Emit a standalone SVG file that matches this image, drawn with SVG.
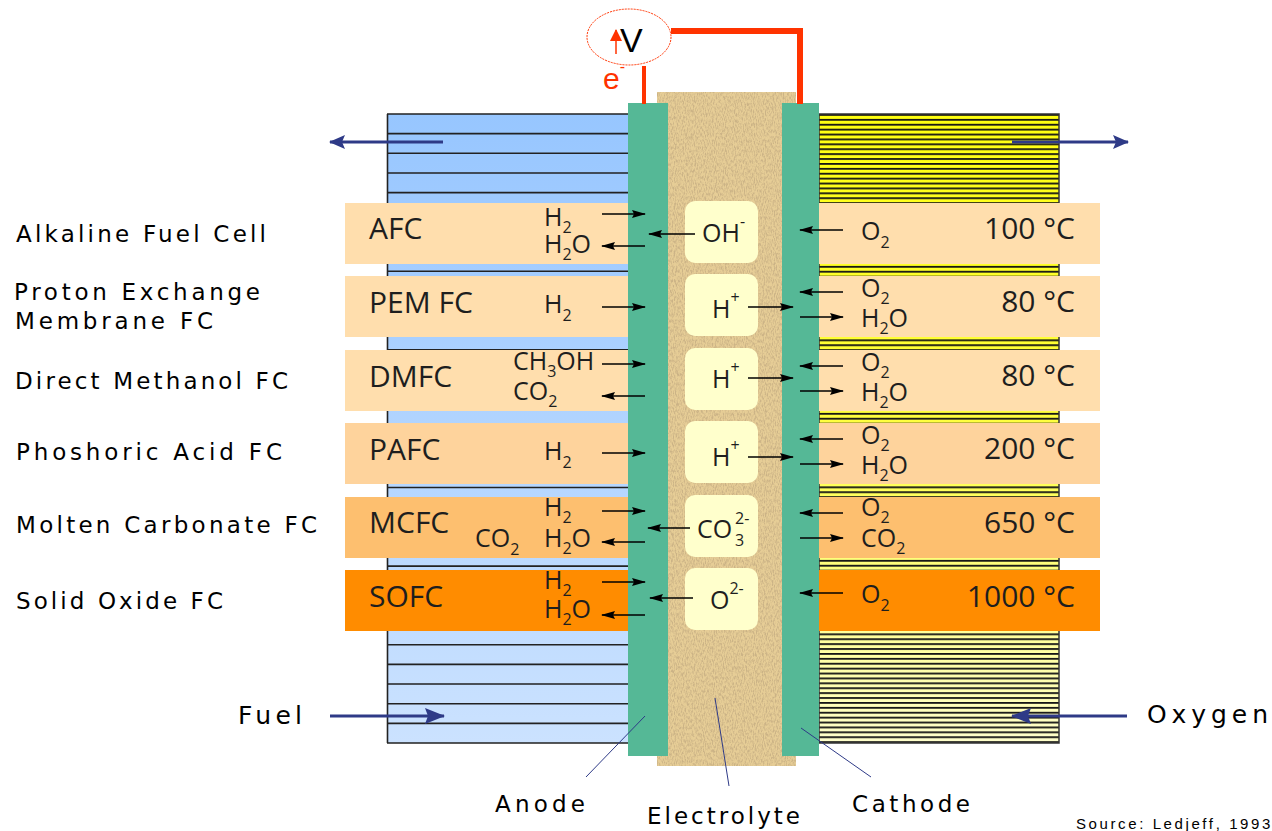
<svg xmlns="http://www.w3.org/2000/svg" width="1272" height="831" viewBox="0 0 1272 831">
<defs>
<style>
.lbl{font-family:"DejaVu Sans","Liberation Sans",Arial,sans-serif;font-size:23px;fill:#000}
.big{font-size:25px}
.ab{font-family:"Open Sans","Noto Sans",sans-serif;font-size:30px;fill:#1e1e1e}
.ch{font-family:"Open Sans","Noto Sans",sans-serif;font-size:25px;fill:#1e1e1e}
.sub{font-size:16px}
.band-l{fill:#ffdead}
.ion{fill:#ffffcc}
.blk{stroke:#000;stroke-width:1.6;fill:none;marker-end:url(#ah)}
.blu{stroke:#2e3a87;stroke-width:3;fill:none}
.lead{stroke:#2e3a87;stroke-width:1;fill:none}
.wire{stroke:#ff3300;fill:none}
</style>
<linearGradient id="gBlue" x1="0" y1="0" x2="0" y2="1">
<stop offset="0" stop-color="#97c6ff"/><stop offset="1" stop-color="#cbe2ff"/>
</linearGradient>
<linearGradient id="gYel" x1="0" y1="0" x2="0" y2="1">
<stop offset="0" stop-color="#ffff10"/><stop offset="0.5" stop-color="#ffff40"/><stop offset="1" stop-color="#ffffcc"/>
</linearGradient>
<pattern id="pStripe" patternUnits="userSpaceOnUse" x="819" y="114" width="10" height="4.9">
<rect x="0" y="0" width="10" height="1.8" fill="#151515"/>
</pattern>
<filter id="paper" x="0" y="0" width="1" height="1">
<feTurbulence type="fractalNoise" baseFrequency="0.9 0.3" numOctaves="3" seed="7" result="n"/>
<feColorMatrix in="n" type="matrix" values="0 0 0 0 0.6  0 0 0 0 0.45  0 0 0 0 0.24  3 0 0 0 -1.2" result="s"/>
<feComposite in="s" in2="SourceGraphic" operator="in" result="s2"/>
<feMerge><feMergeNode in="SourceGraphic"/><feMergeNode in="s2"/></feMerge>
</filter>
<marker id="ah" markerUnits="userSpaceOnUse" markerWidth="14" markerHeight="10" refX="13" refY="5" orient="auto">
<path d="M0,1 L14,5 L0,9 L2,5 z" fill="#000"/>
</marker>
<marker id="bh" markerUnits="userSpaceOnUse" markerWidth="16" markerHeight="14" refX="15" refY="7" orient="auto">
<path d="M0,0 L16,7 L0,14 L3,7 z" fill="#2e3a87"/>
</marker>
<marker id="bh2" markerUnits="userSpaceOnUse" markerWidth="20" markerHeight="16" refX="19" refY="8" orient="auto">
<path d="M0,0 L20,8 L0,16 L3,8 z" fill="#2e3a87"/>
</marker>
<marker id="rh" markerUnits="userSpaceOnUse" markerWidth="12" markerHeight="12" refX="11" refY="6" orient="auto">
<path d="M0,0 L12,6 L0,12 z" fill="#ff3300"/>
</marker>
</defs>
<rect width="1272" height="831" fill="#fff"/>

<g id="fuel-channel">
<rect x="387" y="114" width="241" height="629" fill="url(#gBlue)"/>
<path d="M387 114H628M387 133.66H628M387 153.31H628M387 172.97H628M387 192.62H628M387 212.28H628M387 231.94H628M387 251.59H628M387 271.25H628M387 290.9H628M387 310.56H628M387 330.22H628M387 349.87H628M387 369.53H628M387 389.18H628M387 408.84H628M387 428.5H628M387 448.15H628M387 467.81H628M387 487.47H628M387 507.12H628M387 526.78H628M387 546.43H628M387 566.09H628M387 585.75H628M387 605.4H628M387 625.06H628M387 644.72H628M387 664.37H628M387 684.03H628M387 703.68H628M387 723.34H628M387 743H628M387.5 114V743" stroke="#222" stroke-width="1.6" fill="none"/>
</g>

<g id="oxygen-channel">
<rect x="819" y="114" width="240" height="629" fill="url(#gYel)"/>
<rect x="819" y="114" width="240" height="629" fill="url(#pStripe)"/>
<rect x="819" y="114" width="240" height="629" fill="none" stroke="#333" stroke-width="1.5"/>
</g>

<g id="row-afc">
<rect class="band-l" x="345" y="203" width="286" height="61"/>
<rect class="band-l" x="819" y="203" width="281" height="61"/>
<text class="lbl" x="16" y="242" textLength="250" lengthAdjust="spacing">Alkaline Fuel Cell</text>
<text class="ab" x="369" y="239">AFC</text>
<text class="ch" x="544" y="226">H<tspan class="sub" dy="7">2</tspan></text>
<text class="ch" x="544" y="253">H<tspan class="sub" dy="7">2</tspan><tspan dy="-7">O</tspan></text>
<text class="ch" x="861" y="240">O<tspan class="sub" dy="8">2</tspan></text>
<text class="ab" x="1075" y="239" text-anchor="end">100 °C</text>
</g>
<g id="row-pem">
<rect class="band-l" x="345" y="276" width="286" height="61"/>
<rect class="band-l" x="819" y="276" width="281" height="61"/>
<text class="lbl" x="14" y="300" textLength="246" lengthAdjust="spacing">Proton Exchange</text>
<text class="lbl" x="15" y="329" textLength="198" lengthAdjust="spacing">Membrane FC</text>
<text class="ab" x="369" y="313">PEM FC</text>
<text class="ch" x="544" y="313">H<tspan class="sub" dy="8">2</tspan></text>
<text class="ch" x="861" y="297">O<tspan class="sub" dy="7">2</tspan></text>
<text class="ch" x="861" y="327">H<tspan class="sub" dy="7">2</tspan><tspan dy="-7">O</tspan></text>
<text class="ab" x="1075" y="312" text-anchor="end">80 °C</text>
</g>
<g id="row-dmfc">
<rect class="band-l" x="345" y="350" width="286" height="61"/>
<rect class="band-l" x="819" y="350" width="281" height="61"/>
<text class="lbl" x="15" y="389" textLength="273" lengthAdjust="spacing">Direct Methanol FC</text>
<text class="ab" x="369" y="387">DMFC</text>
<text class="ch" x="513" y="370">CH<tspan class="sub" dy="7">3</tspan><tspan dy="-7">OH</tspan></text>
<text class="ch" x="513" y="400">CO<tspan class="sub" dy="7">2</tspan></text>
<text class="ch" x="861" y="371">O<tspan class="sub" dy="7">2</tspan></text>
<text class="ch" x="861" y="401">H<tspan class="sub" dy="7">2</tspan><tspan dy="-7">O</tspan></text>
<text class="ab" x="1075" y="386" text-anchor="end">80 °C</text>
</g>
<g id="row-pafc">
<rect x="345" y="423" width="286" height="61" fill="#fed39c"/>
<rect x="819" y="423" width="281" height="61" fill="#fed39c"/>
<text class="lbl" x="16" y="460" textLength="266" lengthAdjust="spacing">Phoshoric Acid FC</text>
<text class="ab" x="369" y="460">PAFC</text>
<text class="ch" x="544" y="460">H<tspan class="sub" dy="8">2</tspan></text>
<text class="ch" x="861" y="444">O<tspan class="sub" dy="7">2</tspan></text>
<text class="ch" x="861" y="474">H<tspan class="sub" dy="7">2</tspan><tspan dy="-7">O</tspan></text>
<text class="ab" x="1075" y="459" text-anchor="end">200 °C</text>
</g>
<g id="row-mcfc">
<rect x="345" y="497" width="286" height="61" fill="#fdbf6f"/>
<rect x="819" y="497" width="281" height="61" fill="#fdbf6f"/>
<text class="lbl" x="16" y="533" textLength="301" lengthAdjust="spacing">Molten Carbonate FC</text>
<text class="ab" x="369" y="533">MCFC</text>
<text class="ch" x="475" y="547">CO<tspan class="sub" dy="8">2</tspan></text>
<text class="ch" x="544" y="516">H<tspan class="sub" dy="7">2</tspan></text>
<text class="ch" x="544" y="547">H<tspan class="sub" dy="7">2</tspan><tspan dy="-7">O</tspan></text>
<text class="ch" x="861" y="516">O<tspan class="sub" dy="7">2</tspan></text>
<text class="ch" x="861" y="547">CO<tspan class="sub" dy="7">2</tspan></text>
<text class="ab" x="1075" y="533" text-anchor="end">650 °C</text>
</g>
<g id="row-sofc">
<rect x="345" y="570" width="286" height="61" fill="#ff8c00"/>
<rect x="819" y="570" width="281" height="61" fill="#ff8c00"/>
<text class="lbl" x="16" y="609" textLength="207" lengthAdjust="spacing">Solid Oxide FC</text>
<text class="ab" x="369" y="607">SOFC</text>
<text class="ch" x="544" y="589">H<tspan class="sub" dy="7">2</tspan></text>
<text class="ch" x="544" y="618">H<tspan class="sub" dy="7">2</tspan><tspan dy="-7">O</tspan></text>
<text class="ch" x="861" y="603">O<tspan class="sub" dy="8">2</tspan></text>
<text class="ab" x="1075" y="607" text-anchor="end">1000 °C</text>
</g>

<g id="electrolyte">
<rect x="657" y="92" width="139" height="674" fill="#e6cd96" filter="url(#paper)"/>
<rect class="ion" x="685" y="201" width="73" height="62" rx="10"/>
<rect class="ion" x="685" y="274" width="73" height="62" rx="10"/>
<rect class="ion" x="685" y="348" width="73" height="62" rx="10"/>
<rect class="ion" x="685" y="421" width="73" height="62" rx="10"/>
<rect class="ion" x="685" y="495" width="73" height="62" rx="10"/>
<rect class="ion" x="685" y="568" width="73" height="62" rx="10"/>
<text class="ch" x="702" y="242">OH<tspan class="sub" dy="-15">-</tspan></text>
<text class="ch" x="712" y="318">H<tspan class="sub" dy="-15">+</tspan></text>
<text class="ch" x="712" y="388">H<tspan class="sub" dy="-15">+</tspan></text>
<text class="ch" x="712" y="466">H<tspan class="sub" dy="-15">+</tspan></text>
<text class="ch" x="697" y="538">CO<tspan class="sub" x="735" dy="8">3</tspan><tspan class="sub" x="735" dy="-22">2-</tspan></text>
<text class="ch" x="710" y="609">O<tspan class="sub" dy="-15">2-</tspan></text>
</g>
<g id="anode">
<rect x="628" y="103" width="40" height="653" fill="#55b896"/>
</g>
<g id="cathode">
<rect x="782" y="103" width="37" height="653" fill="#55b896"/>
</g>

<g id="voltmeter">
<path class="wire" d="M644 66V104" stroke-width="4"/>
<path class="wire" d="M671 31H800V104" stroke-width="6"/>
<ellipse cx="629" cy="37" rx="42" ry="28" fill="#fff" stroke="#ff3300" stroke-width="1" stroke-dasharray="2 1"/>
<text x="620" y="52" font-family="Liberation Sans,Arial,sans-serif" font-size="34" fill="#000">V</text>
<line x1="616" y1="54" x2="616" y2="30" stroke="#ff3300" stroke-width="1.5" marker-end="url(#rh)"/>
<text x="603" y="89" font-family="Liberation Sans,Arial,sans-serif" font-size="30" fill="#ff3300">e<tspan font-size="16" dy="-17">-</tspan></text>
</g>

<g id="connectors">
<line class="blk" x1="602" y1="214" x2="645" y2="214"/>
<line class="blk" x1="645" y1="246" x2="602" y2="246"/>
<line class="blk" x1="695" y1="234" x2="649" y2="234"/>
<line class="blk" x1="843" y1="230" x2="800" y2="230"/>

<line class="blk" x1="602" y1="307" x2="645" y2="307"/>
<line class="blk" x1="748" y1="307" x2="793" y2="307"/>
<line class="blk" x1="843" y1="292" x2="800" y2="292"/>
<line class="blk" x1="800" y1="317" x2="843" y2="317"/>

<line class="blk" x1="602" y1="364" x2="645" y2="364"/>
<line class="blk" x1="645" y1="396" x2="602" y2="396"/>
<line class="blk" x1="748" y1="378" x2="793" y2="378"/>
<line class="blk" x1="843" y1="366" x2="800" y2="366"/>
<line class="blk" x1="800" y1="391" x2="843" y2="391"/>

<line class="blk" x1="602" y1="453" x2="645" y2="453"/>
<line class="blk" x1="748" y1="457" x2="793" y2="457"/>
<line class="blk" x1="843" y1="439" x2="800" y2="439"/>
<line class="blk" x1="800" y1="464" x2="843" y2="464"/>

<line class="blk" x1="602" y1="511" x2="645" y2="511"/>
<line class="blk" x1="645" y1="542" x2="602" y2="542"/>
<line class="blk" x1="690" y1="528" x2="648" y2="528"/>
<line class="blk" x1="843" y1="513" x2="800" y2="513"/>
<line class="blk" x1="800" y1="538" x2="843" y2="538"/>

<line class="blk" x1="602" y1="582" x2="645" y2="582"/>
<line class="blk" x1="645" y1="615" x2="602" y2="615"/>
<line class="blk" x1="693" y1="598" x2="650" y2="598"/>
<line class="blk" x1="843" y1="593" x2="800" y2="593"/>

<line class="blu" x1="443" y1="142" x2="330" y2="142" marker-end="url(#bh)"/>
<line class="blu" x1="1012" y1="142" x2="1128" y2="142" marker-end="url(#bh)"/>
<line class="blu" x1="330" y1="716" x2="444" y2="716" stroke-width="4" marker-end="url(#bh2)"/>
<line class="blu" x1="1127" y1="716" x2="1012" y2="716" stroke-width="4" marker-end="url(#bh2)"/>

<line class="lead" x1="645" y1="716" x2="586" y2="777"/>
<line class="lead" x1="715" y1="698" x2="729" y2="786"/>
<line class="lead" x1="801" y1="728" x2="871" y2="777"/>
</g>

<g id="labels">
<text class="lbl big" x="238" y="724" textLength="64" lengthAdjust="spacing">Fuel</text>
<text class="lbl big" x="1147" y="723" textLength="121" lengthAdjust="spacing">Oxygen</text>
<text class="lbl" x="495" y="812" textLength="90" lengthAdjust="spacing">Anode</text>
<text class="lbl" x="647" y="824" textLength="153" lengthAdjust="spacing">Electrolyte</text>
<text class="lbl" x="852" y="812" textLength="118" lengthAdjust="spacing">Cathode</text>
<text x="1076" y="829" font-family="Liberation Sans,Arial,sans-serif" font-size="15" letter-spacing="2.6" fill="#000">Source: Ledjeff, 1993</text>
</g>
</svg>
